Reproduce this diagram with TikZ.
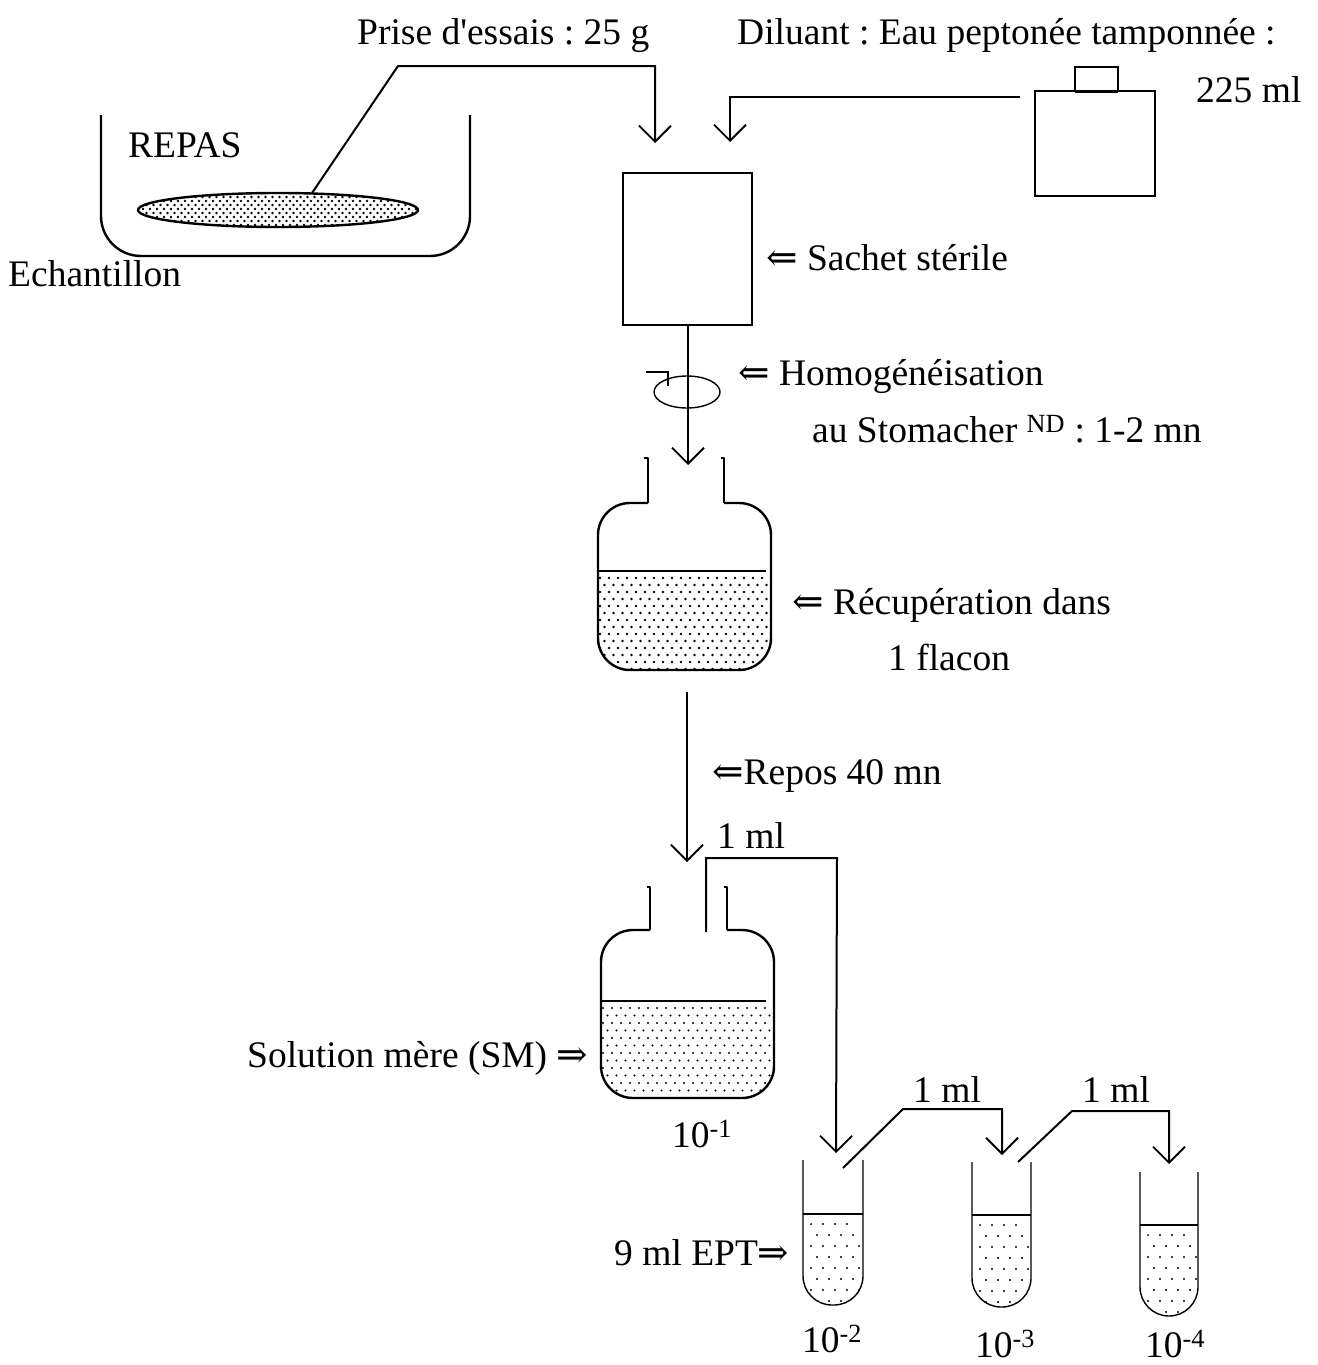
\documentclass[tikz,border=0pt]{standalone}
\usepackage{fontspec}
\setmainfont{Liberation Serif}
\newfontfamily\arrowfont{DejaVu Serif}
\usetikzlibrary{arrows.meta}
\newcommand\dotgrid[7]{%
  \foreach \jj in {0,...,#4}{%
    \foreach \ii in {0,...,#3}{%
      \fill ({#1+\ii*#5+mod(\jj,2)*#5/2},{#2+\jj*#6}) circle[radius=#7];
    }}}
\newcommand\larr{{\arrowfont ⇐}}
\newcommand\rarr{{\arrowfont ⇒}}
\frenchspacing
\begin{document}
\begin{tikzpicture}[x=1pt,y=-1pt,
  lbl/.style={font=\fontsize{37.5}{40}\selectfont, inner sep=0pt, anchor=base west},
  conn/.style={line width=2pt},
  thinline/.style={line width=1.4pt},
  vtip/.style={-{Straight Barb[length=16pt,width=32pt,line width=1.8pt]}},
  vessel/.style={line width=2.4pt, line join=round},
  liquid/.style={line width=1.2pt}]
\useasboundingbox (0,0) rectangle (1317,1365);

% ---------- labels ----------
\node[lbl] (prise) at (357,44) {Prise d\textquotesingle essais : 25 g};
\node[lbl] (diluant) at (737,44) {Diluant : Eau peptonée tamponnée :};
\node[lbl] (vol) at (1196,102) {225 ml};
\node[lbl] (repas) at (128,157) {REPAS};
\node[lbl] (echant) at (8,286) {Echantillon};
\node[lbl] (sachetlbl) at (766,270) {\larr{} Sachet stérile};
\node[lbl] (homog) at (738,385) {\larr{} Homogénéisation};
\node[lbl] (stom) at (812,442) {au Stomacher \textsuperscript{ND} : 1-2 mn};
\node[lbl] (recup) at (792,614) {\larr{} Récupération dans};
\node[lbl] (flacon) at (888,670) {1 flacon};
\node[lbl] (repos) at (712,784) {\larr{}Repos 40 mn};
\node[lbl] (mlA) at (717,848) {1 ml};
\node[lbl] (sm) at (247,1067) {Solution mère (SM) \rarr};
\node[lbl] (dA) at (672,1147) {10\textsuperscript{-1}};
\node[lbl] (mlB) at (913,1102) {1 ml};
\node[lbl] (mlC) at (1082,1102) {1 ml};
\node[lbl] (ept) at (614,1265) {9 ml EPT\rarr};
\node[lbl] (dB) at (802,1352) {10\textsuperscript{-2}};
\node[lbl] (dC) at (975,1357) {10\textsuperscript{-3}};
\node[lbl] (dD) at (1145,1357) {10\textsuperscript{-4}};

% ---------- sample bowl ----------
\draw[vessel, rounded corners=40pt] (101,115) -- (101,256) -- (470,256) -- (470,115);
\begin{scope}
  \clip (278,210) ellipse [x radius=140, y radius=17];
  \dotgrid{136}{193}{40}{9}{7}{4}{1.4}
\end{scope}
\draw[vessel] (278,210) ellipse [x radius=140, y radius=17];

% ---------- bottle of diluent ----------
\draw[line width=1.8pt] (1035,91) rectangle (1155,196);
\draw[line width=1.8pt] (1075,91) -- (1075,67) -- (1118,67) -- (1118,91);
\draw[line width=3pt] (1075,91) -- (1118,91);

% ---------- sterile bag ----------
\draw[thinline] (623,173) rectangle (752,325);

% ---------- named connector points ----------
\coordinate (foodpt) at (312,193);
\coordinate (bendA) at (398,66);
\coordinate (bendB) at (655,66);
\coordinate (tipA) at (655,143);
\coordinate (bottlept) at (1020,97);
\coordinate (bendC) at (730,97);
\coordinate (tipB) at (730,142);
\coordinate (bagbot) at (688,325);
\coordinate (tipC) at (688,465);
\coordinate (flaskAbot) at (687,692);
\coordinate (tipD) at (687,862);
\coordinate (pipA) at (706,932);
\coordinate (pipAtop) at (706,858);
\coordinate (pipAcor) at (837,858);
\coordinate (tipE) at (836,1153);
\coordinate (trA) at (843,1168);
\coordinate (trAb) at (903,1109);
\coordinate (trAc) at (1002,1109);
\coordinate (tipF) at (1002,1155);
\coordinate (trB) at (1018,1162);
\coordinate (trBb) at (1072,1111);
\coordinate (trBc) at (1169,1111);
\coordinate (tipG) at (1169,1164);

% ---------- connectors ----------
\draw[conn, vtip] (foodpt) -- (bendA) -- (bendB) -- (tipA);
\draw[conn, vtip] (bottlept) -- (bendC) -- (tipB);
\draw[thinline, vtip] (bagbot) -- (tipC);
\draw[thinline] (687,392) ellipse [x radius=33, y radius=16];
\draw[thinline] (646,372) -- (668,372) -- (668,386);
\draw[thinline, vtip] (flaskAbot) -- (tipD);
\draw[conn, vtip] (pipA) -- (pipAtop) -- (pipAcor) -- (tipE);
\draw[conn, vtip] (trA) -- (trAb) -- (trAc) -- (tipF);
\draw[conn, vtip] (trB) -- (trBb) -- (trBc) -- (tipG);

% ---------- flask 1 ----------
\begin{scope}
  \clip[rounded corners=32pt] (598,503) rectangle (771,670);
  \clip (590,573) rectangle (780,680);
  \dotgrid{600}{578}{19}{13}{9}{7}{1.3}
\end{scope}
\draw[liquid] (598,571) -- (766,571);
\draw[vessel, rounded corners=32pt] (648,503) -- (598,503) -- (598,670) -- (771,670) -- (771,503) -- (724,503);
\draw[vessel] (644,458) -- (648,458) -- (648,503);
\draw[vessel] (721,458) -- (724,458) -- (724,503);

% ---------- flask 2 (mother solution) ----------
\begin{scope}
  \clip[rounded corners=32pt] (601,930) rectangle (774,1098);
  \clip (590,1003) rectangle (780,1110);
  \dotgrid{603}{1008}{19}{12}{9}{7.5}{1.1}
\end{scope}
\draw[liquid] (601,1001) -- (766,1001);
\draw[vessel, rounded corners=32pt] (650,930) -- (601,930) -- (601,1098) -- (774,1098) -- (774,930) -- (727,930);
\draw[vessel] (647,887) -- (650,887) -- (650,930);
\draw[vessel] (724,887) -- (727,887) -- (727,930);

% ---------- tubes ----------
\foreach \L/\R/\T/\Lq/\B in {803/863/1160/1214/1305, 972/1031/1162/1215/1307, 1140/1198/1172/1225/1316}{
  \begin{scope}
    \clip[rounded corners=29pt] (\L,\Lq) -- (\L,\B) -- (\R,\B) -- (\R,\Lq) -- cycle;
    \dotgrid{\L+8}{\Lq+10}{4}{8}{12}{11}{1.1}
  \end{scope}
  \draw[liquid] (\L,\Lq) -- (\R,\Lq);
  \draw[thinline, rounded corners=29pt] (\L,\T) -- (\L,\B) -- (\R,\B) -- (\R,\T);
}
\end{tikzpicture}
\end{document}
